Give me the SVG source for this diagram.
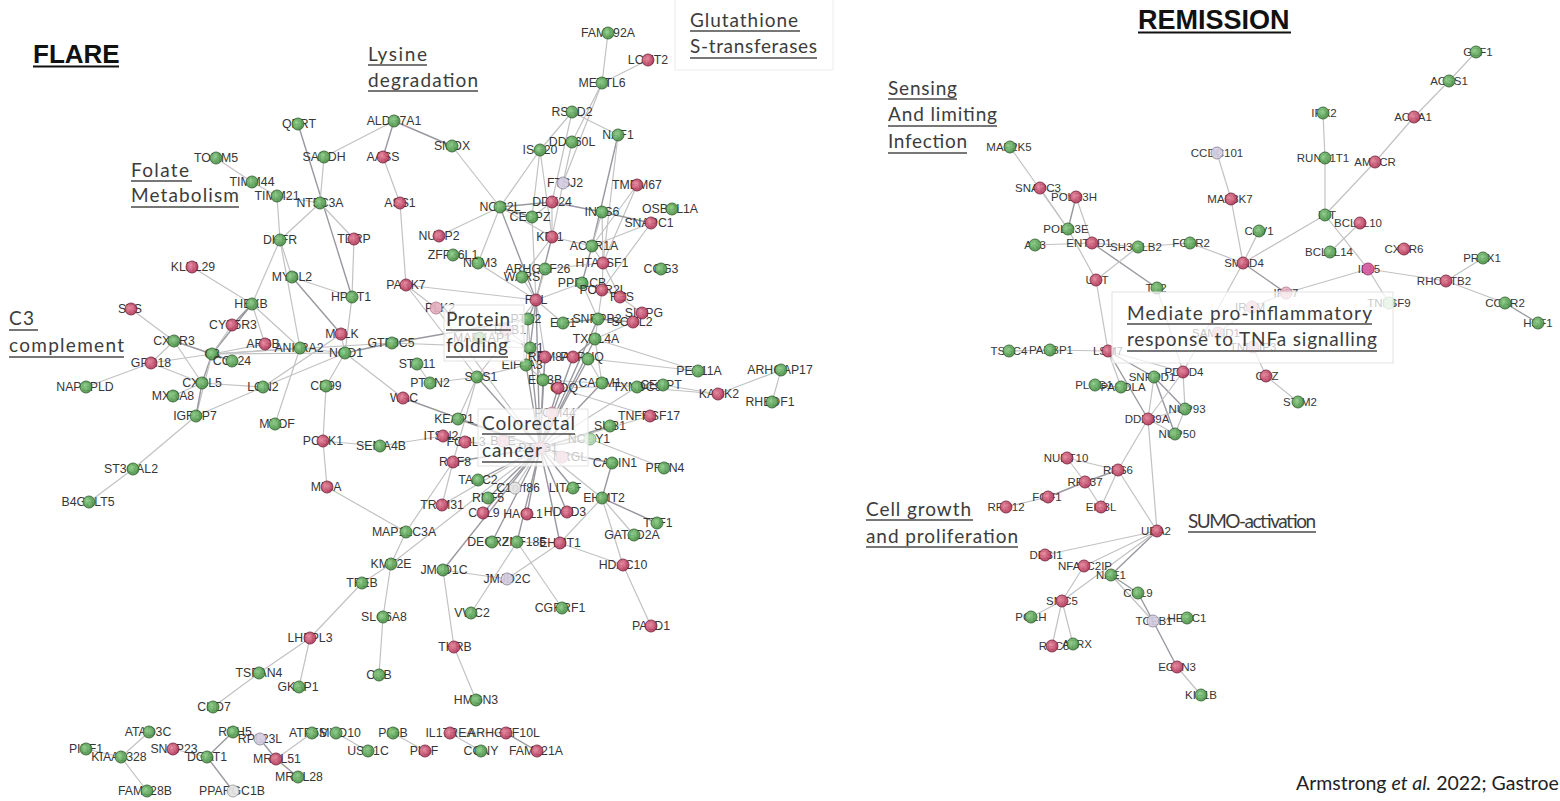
<svg xmlns="http://www.w3.org/2000/svg" width="1560" height="801" viewBox="0 0 1560 801">
<style>
.bg{fill:#fff}
#connectors line{stroke:#c2c2c2;stroke-width:1.2}
#connectors line.d{stroke:#98989f;stroke-width:1.4}
.nd text{font-family:"Liberation Sans",Arial,sans-serif;font-size:12.3px;fill:#363636;text-anchor:middle}
.rt text{font-size:11.5px}
.nd circle{stroke-width:0.9;opacity:0.92}
.g circle{fill:url(#gG);stroke:#2f5e2d}
.r circle{fill:url(#gR);stroke:#702038}
.p circle{fill:#e5b0c0;stroke:#b07888}
.l circle{fill:#d4cde0;stroke:#8a8698}
.w circle{fill:#e4e4e4;stroke:#999}
.lg circle{fill:#b5dcb0;stroke:#6f9e6b}
.m circle{fill:#d65a9e;stroke:#8a2a60}
.cat{font-family:Lato,"Open Sans",sans-serif;font-size:19px;fill:#3c3c3c}
.ul{stroke:#4a4a4a;stroke-width:1.5}
.ttl{font-family:"Liberation Sans",Arial,sans-serif;font-weight:bold;fill:#111}
.box{fill:#fff;fill-opacity:0.72;stroke:#e2e2e2;stroke-width:1}
</style>
<defs>
<radialGradient id="gG" cx="0.4" cy="0.4" r="0.6"><stop offset="0" stop-color="#8fd08a"/><stop offset="1" stop-color="#4a9146"/></radialGradient>
<radialGradient id="gR" cx="0.4" cy="0.4" r="0.6"><stop offset="0" stop-color="#ea8aa0"/><stop offset="1" stop-color="#b4385a"/></radialGradient>
</defs>
<rect class="bg" x="0" y="0" width="1560" height="801"/>

<g id="connectors">
<line x1="608" y1="33" x2="602" y2="83"/>
<line x1="648" y1="60" x2="602" y2="83"/>
<line x1="602" y1="83" x2="563" y2="183"/>
<line x1="602" y1="83" x2="572" y2="142"/>
<line x1="572" y1="112" x2="618" y2="135"/>
<line x1="572" y1="112" x2="540" y2="150"/>
<line x1="572" y1="112" x2="552" y2="202"/>
<line x1="572" y1="142" x2="563" y2="183"/>
<line x1="540" y1="150" x2="532" y2="217"/>
<line x1="540" y1="150" x2="500" y2="207"/>
<line x1="540" y1="150" x2="552" y2="237"/>
<line class="d" x1="618" y1="135" x2="592" y2="246"/>
<line x1="618" y1="135" x2="603" y2="263"/>
<line x1="637" y1="185" x2="592" y2="246"/>
<line x1="637" y1="185" x2="603" y2="263"/>
<line class="d" x1="602" y1="212" x2="552" y2="202"/>
<line class="d" x1="602" y1="212" x2="651" y2="223"/>
<line x1="602" y1="212" x2="592" y2="246"/>
<line x1="602" y1="212" x2="603" y2="263"/>
<line x1="651" y1="223" x2="592" y2="246"/>
<line x1="651" y1="223" x2="602" y2="290"/>
<line x1="563" y1="183" x2="552" y2="237"/>
<line class="d" x1="500" y1="207" x2="552" y2="202"/>
<line class="d" x1="500" y1="207" x2="532" y2="217"/>
<line x1="500" y1="207" x2="552" y2="237"/>
<line class="d" x1="500" y1="207" x2="536" y2="300"/>
<line x1="500" y1="207" x2="439" y2="236"/>
<line x1="500" y1="207" x2="478" y2="263"/>
<line x1="452" y1="146" x2="500" y2="207"/>
<line x1="532" y1="217" x2="552" y2="202"/>
<line x1="532" y1="217" x2="536" y2="300"/>
<line x1="552" y1="202" x2="552" y2="237"/>
<line x1="552" y1="237" x2="592" y2="246"/>
<line class="d" x1="552" y1="237" x2="536" y2="300"/>
<line x1="552" y1="237" x2="522" y2="277"/>
<line x1="592" y1="246" x2="603" y2="263"/>
<line class="d" x1="592" y1="246" x2="582" y2="283"/>
<line x1="603" y1="263" x2="602" y2="290"/>
<line x1="603" y1="263" x2="620" y2="297"/>
<line x1="603" y1="263" x2="545" y2="269"/>
<line x1="545" y1="269" x2="522" y2="277"/>
<line x1="478" y1="263" x2="536" y2="300"/>
<line x1="453" y1="255" x2="478" y2="263"/>
<line x1="394" y1="121" x2="324" y2="157"/>
<line class="d" x1="394" y1="121" x2="383" y2="157"/>
<line class="d" x1="394" y1="121" x2="452" y2="146"/>
<line x1="383" y1="157" x2="400" y2="203"/>
<line x1="400" y1="203" x2="406" y2="285"/>
<line class="d" x1="298" y1="124" x2="352" y2="297"/>
<line x1="324" y1="157" x2="320" y2="203"/>
<line x1="320" y1="203" x2="280" y2="240"/>
<line x1="320" y1="203" x2="354" y2="239"/>
<line x1="320" y1="203" x2="277" y2="196"/>
<line x1="216" y1="158" x2="252" y2="182"/>
<line x1="252" y1="182" x2="277" y2="196"/>
<line x1="277" y1="196" x2="280" y2="240"/>
<line x1="280" y1="240" x2="292" y2="277"/>
<line x1="280" y1="240" x2="252" y2="304"/>
<line x1="280" y1="240" x2="300" y2="348"/>
<line x1="354" y1="239" x2="352" y2="297"/>
<line x1="192" y1="267" x2="252" y2="304"/>
<line class="d" x1="292" y1="277" x2="341" y2="334"/>
<line x1="292" y1="277" x2="352" y2="297"/>
<line x1="352" y1="297" x2="345" y2="353"/>
<line x1="406" y1="285" x2="536" y2="300"/>
<line x1="406" y1="285" x2="477" y2="377"/>
<line class="d" x1="252" y1="304" x2="232" y2="325"/>
<line class="d" x1="252" y1="304" x2="212" y2="354"/>
<line x1="252" y1="304" x2="265" y2="344"/>
<line x1="252" y1="304" x2="300" y2="348"/>
<line x1="232" y1="325" x2="212" y2="354"/>
<line class="d" x1="212" y1="354" x2="174" y2="341"/>
<line class="d" x1="212" y1="354" x2="232" y2="361"/>
<line class="d" x1="212" y1="354" x2="202" y2="383"/>
<line x1="212" y1="354" x2="151" y2="363"/>
<line x1="212" y1="354" x2="196" y2="416"/>
<line x1="212" y1="354" x2="265" y2="344"/>
<line x1="212" y1="354" x2="300" y2="348"/>
<line x1="212" y1="354" x2="345" y2="353"/>
<line x1="212" y1="354" x2="392" y2="343"/>
<line x1="174" y1="341" x2="151" y2="363"/>
<line x1="174" y1="341" x2="202" y2="383"/>
<line x1="174" y1="341" x2="131" y2="309"/>
<line x1="151" y1="363" x2="86" y2="387"/>
<line x1="151" y1="363" x2="202" y2="383"/>
<line x1="202" y1="383" x2="263" y2="387"/>
<line class="d" x1="202" y1="383" x2="196" y2="416"/>
<line x1="202" y1="383" x2="173" y2="396"/>
<line x1="196" y1="416" x2="133" y2="469"/>
<line x1="133" y1="469" x2="89" y2="502"/>
<line x1="196" y1="416" x2="263" y2="387"/>
<line x1="263" y1="387" x2="341" y2="334"/>
<line x1="263" y1="387" x2="345" y2="353"/>
<line class="d" x1="345" y1="353" x2="392" y2="343"/>
<line class="d" x1="392" y1="343" x2="528" y2="319"/>
<line x1="341" y1="334" x2="345" y2="353"/>
<line x1="345" y1="353" x2="403" y2="398"/>
<line x1="345" y1="353" x2="326" y2="386"/>
<line x1="326" y1="386" x2="323" y2="441"/>
<line x1="323" y1="441" x2="327" y2="487"/>
<line x1="323" y1="441" x2="380" y2="446"/>
<line x1="380" y1="446" x2="443" y2="436"/>
<line x1="327" y1="487" x2="406" y2="532"/>
<line x1="275" y1="424" x2="300" y2="348"/>
<line x1="300" y1="348" x2="345" y2="353"/>
<line x1="406" y1="285" x2="436" y2="308"/>
<line x1="436" y1="308" x2="540" y2="448"/>
<line x1="417" y1="364" x2="430" y2="383"/>
<line x1="430" y1="383" x2="477" y2="377"/>
<line class="d" x1="403" y1="398" x2="540" y2="448"/>
<line class="d" x1="477" y1="377" x2="540" y2="448"/>
<line x1="477" y1="377" x2="458" y2="419"/>
<line x1="477" y1="377" x2="453" y2="462"/>
<line x1="477" y1="377" x2="536" y2="300"/>
<line class="d" x1="458" y1="419" x2="540" y2="448"/>
<line x1="443" y1="436" x2="465" y2="442"/>
<line x1="465" y1="442" x2="540" y2="448"/>
<line x1="453" y1="462" x2="442" y2="505"/>
<line class="d" x1="453" y1="462" x2="540" y2="448"/>
<line x1="453" y1="462" x2="406" y2="532"/>
<line class="d" x1="478" y1="480" x2="540" y2="448"/>
<line class="d" x1="488" y1="498" x2="540" y2="448"/>
<line class="d" x1="483" y1="513" x2="540" y2="448"/>
<line class="d" x1="527" y1="514" x2="540" y2="448"/>
<line class="d" x1="567" y1="512" x2="540" y2="448"/>
<line class="d" x1="573" y1="488" x2="540" y2="448"/>
<line x1="515" y1="488" x2="540" y2="448"/>
<line x1="442" y1="505" x2="540" y2="448"/>
<line class="d" x1="602" y1="498" x2="612" y2="463"/>
<line class="d" x1="602" y1="498" x2="657" y2="523"/>
<line x1="602" y1="498" x2="634" y2="535"/>
<line x1="602" y1="498" x2="560" y2="543"/>
<line x1="602" y1="498" x2="623" y2="565"/>
<line x1="602" y1="498" x2="540" y2="448"/>
<line x1="560" y1="543" x2="623" y2="565"/>
<line x1="560" y1="543" x2="507" y2="579"/>
<line x1="560" y1="543" x2="517" y2="542"/>
<line class="d" x1="560" y1="543" x2="540" y2="448"/>
<line x1="623" y1="565" x2="651" y2="626"/>
<line x1="443" y1="570" x2="507" y2="579"/>
<line x1="443" y1="570" x2="454" y2="647"/>
<line class="d" x1="443" y1="570" x2="540" y2="448"/>
<line x1="454" y1="647" x2="476" y2="700"/>
<line x1="471" y1="613" x2="517" y2="542"/>
<line x1="517" y1="542" x2="562" y2="608"/>
<line class="d" x1="492" y1="542" x2="540" y2="448"/>
<line class="d" x1="517" y1="542" x2="540" y2="448"/>
<line x1="406" y1="532" x2="391" y2="564"/>
<line x1="391" y1="564" x2="362" y2="583"/>
<line x1="391" y1="564" x2="383" y2="617"/>
<line x1="391" y1="564" x2="540" y2="448"/>
<line x1="362" y1="583" x2="310" y2="638"/>
<line x1="383" y1="617" x2="379" y2="675"/>
<line x1="310" y1="638" x2="259" y2="673"/>
<line x1="310" y1="638" x2="299" y2="687"/>
<line x1="259" y1="673" x2="213" y2="707"/>
<line x1="149" y1="732" x2="121" y2="757"/>
<line x1="86" y1="749" x2="121" y2="757"/>
<line x1="121" y1="757" x2="147" y2="791"/>
<line x1="173" y1="749" x2="207" y2="757"/>
<line class="d" x1="207" y1="757" x2="233" y2="732"/>
<line class="d" x1="207" y1="757" x2="233" y2="791"/>
<line class="d" x1="260" y1="739" x2="276" y2="759"/>
<line class="d" x1="276" y1="759" x2="298" y2="777"/>
<line x1="276" y1="759" x2="312" y2="733"/>
<line x1="336" y1="733" x2="368" y2="751"/>
<line x1="393" y1="733" x2="425" y2="751"/>
<line x1="450" y1="733" x2="481" y2="751"/>
<line x1="450" y1="733" x2="506" y2="733"/>
<line class="d" x1="506" y1="733" x2="537" y2="751"/>
<line x1="573" y1="357" x2="698" y2="371"/>
<line x1="595" y1="339" x2="698" y2="371"/>
<line x1="663" y1="385" x2="718" y2="394"/>
<line x1="637" y1="387" x2="718" y2="394"/>
<line x1="718" y1="394" x2="781" y2="370"/>
<line x1="781" y1="370" x2="772" y2="402"/>
<line x1="650" y1="416" x2="540" y2="448"/>
<line x1="650" y1="416" x2="558" y2="388"/>
<line class="d" x1="610" y1="426" x2="540" y2="448"/>
<line class="d" x1="590" y1="439" x2="540" y2="448"/>
<line x1="590" y1="439" x2="664" y2="468"/>
<line class="d" x1="612" y1="463" x2="540" y2="448"/>
<line class="d" x1="602" y1="383" x2="540" y2="448"/>
<line x1="602" y1="383" x2="595" y2="339"/>
<line x1="602" y1="383" x2="663" y2="385"/>
<line x1="602" y1="383" x2="543" y2="380"/>
<line class="d" x1="536" y1="300" x2="528" y2="319"/>
<line class="d" x1="536" y1="300" x2="530" y2="348"/>
<line x1="536" y1="300" x2="545" y2="357"/>
<line x1="536" y1="300" x2="563" y2="323"/>
<line x1="536" y1="300" x2="582" y2="283"/>
<line x1="536" y1="300" x2="522" y2="277"/>
<line x1="536" y1="300" x2="545" y2="269"/>
<line x1="528" y1="319" x2="530" y2="348"/>
<line x1="528" y1="319" x2="526" y2="365"/>
<line x1="530" y1="348" x2="545" y2="357"/>
<line x1="530" y1="348" x2="543" y2="380"/>
<line x1="545" y1="357" x2="543" y2="380"/>
<line x1="545" y1="357" x2="573" y2="357"/>
<line x1="526" y1="365" x2="543" y2="380"/>
<line x1="543" y1="380" x2="558" y2="388"/>
<line class="d" x1="563" y1="323" x2="598" y2="319"/>
<line class="d" x1="598" y1="319" x2="633" y2="322"/>
<line x1="598" y1="319" x2="595" y2="339"/>
<line x1="633" y1="322" x2="642" y2="313"/>
<line x1="642" y1="313" x2="620" y2="297"/>
<line x1="620" y1="297" x2="602" y2="290"/>
<line x1="602" y1="290" x2="582" y2="283"/>
<line x1="582" y1="283" x2="598" y2="319"/>
<line x1="602" y1="290" x2="598" y2="319"/>
<line class="d" x1="595" y1="339" x2="573" y2="357"/>
<line x1="595" y1="339" x2="633" y2="322"/>
<line x1="573" y1="357" x2="588" y2="359"/>
<line x1="588" y1="359" x2="602" y2="383"/>
<line class="d" x1="558" y1="388" x2="540" y2="448"/>
<line class="d" x1="543" y1="380" x2="540" y2="448"/>
<line class="d" x1="530" y1="348" x2="540" y2="448"/>
<line class="d" x1="545" y1="357" x2="540" y2="448"/>
<line class="d" x1="526" y1="365" x2="540" y2="448"/>
<line class="d" x1="573" y1="357" x2="540" y2="448"/>
<line class="d" x1="588" y1="359" x2="540" y2="448"/>
<line x1="552" y1="413" x2="540" y2="448"/>
<line x1="562" y1="457" x2="540" y2="448"/>
<line class="d" x1="536" y1="300" x2="540" y2="448"/>
<line class="d" x1="598" y1="319" x2="540" y2="448"/>
<line class="d" x1="595" y1="339" x2="540" y2="448"/>
<line x1="637" y1="387" x2="540" y2="448"/>
<line x1="663" y1="385" x2="558" y2="388"/>
<line x1="477" y1="377" x2="526" y2="365"/>
<line x1="436" y1="308" x2="530" y2="348"/>
<line x1="392" y1="343" x2="530" y2="348"/>
<line x1="503" y1="441" x2="540" y2="448"/>
<line x1="507" y1="330" x2="530" y2="348"/>

<line x1="1476" y1="52" x2="1449" y2="81"/>
<line x1="1449" y1="81" x2="1414" y2="117"/>
<line x1="1414" y1="117" x2="1375" y2="162"/>
<line x1="1375" y1="162" x2="1325" y2="215"/>
<line x1="1323" y1="113" x2="1325" y2="158"/>
<line x1="1325" y1="158" x2="1325" y2="215"/>
<line x1="1217" y1="153" x2="1231" y2="199"/>
<line x1="1231" y1="199" x2="1243" y2="263"/>
<line x1="1325" y1="215" x2="1243" y2="263"/>
<line x1="1325" y1="215" x2="1368" y2="269"/>
<line x1="1360" y1="223" x2="1330" y2="252"/>
<line x1="1259" y1="231" x2="1243" y2="263"/>
<line x1="1190" y1="243" x2="1243" y2="263"/>
<line class="d" x1="1243" y1="263" x2="1286" y2="293"/>
<line x1="1243" y1="263" x2="1183" y2="372"/>
<line x1="1286" y1="293" x2="1368" y2="269"/>
<line x1="1286" y1="293" x2="1252" y2="307"/>
<line x1="1368" y1="269" x2="1446" y2="281"/>
<line x1="1368" y1="269" x2="1389" y2="303"/>
<line x1="1446" y1="281" x2="1483" y2="258"/>
<line x1="1446" y1="281" x2="1505" y2="303"/>
<line class="d" x1="1505" y1="303" x2="1538" y2="323"/>
<line x1="1253" y1="347" x2="1266" y2="376"/>
<line x1="1266" y1="376" x2="1298" y2="402"/>
<line x1="1218" y1="333" x2="1252" y2="307"/>
<line x1="1010" y1="147" x2="1068" y2="229"/>
<line x1="1040" y1="188" x2="1076" y2="197"/>
<line x1="1040" y1="188" x2="1068" y2="229"/>
<line class="d" x1="1076" y1="197" x2="1068" y2="229"/>
<line x1="1076" y1="197" x2="1092" y2="243"/>
<line x1="1035" y1="245" x2="1092" y2="243"/>
<line x1="1092" y1="243" x2="1138" y2="247"/>
<line x1="1138" y1="247" x2="1190" y2="243"/>
<line class="d" x1="1092" y1="243" x2="1157" y2="288"/>
<line x1="1068" y1="229" x2="1096" y2="280"/>
<line x1="1138" y1="247" x2="1096" y2="280"/>
<line x1="1096" y1="280" x2="1108" y2="351"/>
<line x1="1157" y1="288" x2="1183" y2="372"/>
<line x1="1009" y1="351" x2="1050" y2="350"/>
<line x1="1050" y1="350" x2="1108" y2="351"/>
<line class="d" x1="1108" y1="351" x2="1154" y2="377"/>
<line class="d" x1="1108" y1="351" x2="1148" y2="419"/>
<line x1="1108" y1="351" x2="1121" y2="387"/>
<line x1="1108" y1="351" x2="1183" y2="372"/>
<line x1="1095" y1="385" x2="1121" y2="387"/>
<line x1="1154" y1="377" x2="1148" y2="419"/>
<line class="d" x1="1154" y1="377" x2="1185" y2="409"/>
<line class="d" x1="1154" y1="377" x2="1175" y2="434"/>
<line x1="1148" y1="419" x2="1185" y2="409"/>
<line x1="1148" y1="419" x2="1175" y2="434"/>
<line x1="1185" y1="409" x2="1175" y2="434"/>
<line x1="1183" y1="372" x2="1148" y2="419"/>
<line x1="1183" y1="372" x2="1185" y2="409"/>
<line x1="1148" y1="419" x2="1157" y2="531"/>
<line x1="1148" y1="419" x2="1118" y2="470"/>
<line x1="1067" y1="458" x2="1118" y2="470"/>
<line x1="1067" y1="458" x2="1085" y2="482"/>
<line class="d" x1="1118" y1="470" x2="1085" y2="482"/>
<line x1="1118" y1="470" x2="1101" y2="507"/>
<line x1="1085" y1="482" x2="1101" y2="507"/>
<line class="d" x1="1085" y1="482" x2="1048" y2="497"/>
<line x1="1048" y1="497" x2="1006" y2="507"/>
<line x1="1118" y1="470" x2="1157" y2="531"/>
<line x1="1157" y1="531" x2="1045" y2="555"/>
<line x1="1157" y1="531" x2="1084" y2="566"/>
<line class="d" x1="1157" y1="531" x2="1111" y2="575"/>
<line x1="1157" y1="531" x2="1062" y2="601"/>
<line class="d" x1="1111" y1="575" x2="1138" y2="593"/>
<line class="d" x1="1138" y1="593" x2="1153" y2="621"/>
<line x1="1111" y1="575" x2="1153" y2="621"/>
<line class="d" x1="1153" y1="621" x2="1177" y2="667"/>
<line x1="1153" y1="621" x2="1187" y2="618"/>
<line x1="1177" y1="667" x2="1201" y2="695"/>
<line x1="1084" y1="566" x2="1062" y2="601"/>
<line x1="1062" y1="601" x2="1031" y2="617"/>
<line x1="1062" y1="601" x2="1052" y2="646"/>
<line x1="1062" y1="601" x2="1073" y2="644"/>
</g>

<g id="n-FAM192A" class="nd g"><text x="608" y="37">FAM192A</text><circle cx="608" cy="33" r="6"/></g>
<g id="n-LCMT2" class="nd r"><text x="648" y="64">LCMT2</text><circle cx="648" cy="60" r="6"/></g>
<g id="n-METTL6" class="nd g"><text x="602" y="87">METTL6</text><circle cx="602" cy="83" r="6"/></g>
<g id="n-RSAD2" class="nd g"><text x="572" y="116">RSAD2</text><circle cx="572" cy="112" r="6"/></g>
<g id="n-NAF1" class="nd g"><text x="618" y="139">NAF1</text><circle cx="618" cy="135" r="6"/></g>
<g id="n-DDX60L" class="nd g"><text x="572" y="146">DDX60L</text><circle cx="572" cy="142" r="6"/></g>
<g id="n-ISG20" class="nd g"><text x="540" y="154">ISG20</text><circle cx="540" cy="150" r="6"/></g>
<g id="n-TMEM67" class="nd r"><text x="637" y="189">TMEM67</text><circle cx="637" cy="185" r="6"/></g>
<g id="n-FTSJ2" class="nd l"><text x="565" y="187">FTSJ2</text><circle cx="563" cy="183" r="6"/></g>
<g id="n-DDX24" class="nd r"><text x="552" y="206">DDX24</text><circle cx="552" cy="202" r="6"/></g>
<g id="n-INTS6" class="nd g"><text x="602" y="216">INTS6</text><circle cx="602" cy="212" r="6"/></g>
<g id="n-OSBPL1A" class="nd g"><text x="670" y="213">OSBPL1A</text><circle cx="672" cy="209" r="6"/></g>
<g id="n-SNAPC1" class="nd r"><text x="649" y="227">SNAPC1</text><circle cx="651" cy="223" r="6"/></g>
<g id="n-NOC2L" class="nd g"><text x="500" y="211">NOC2L</text><circle cx="500" cy="207" r="6"/></g>
<g id="n-CEBPZ" class="nd g"><text x="530" y="221">CEBPZ</text><circle cx="532" cy="217" r="6"/></g>
<g id="n-KRI1" class="nd r"><text x="550" y="241">KRI1</text><circle cx="552" cy="237" r="6"/></g>
<g id="n-ACTR1A" class="nd g"><text x="594" y="250">ACTR1A</text><circle cx="592" cy="246" r="6"/></g>
<g id="n-HTATSF1" class="nd r"><text x="602" y="267">HTATSF1</text><circle cx="603" cy="263" r="6"/></g>
<g id="n-COG3" class="nd g"><text x="661" y="273">COG3</text><circle cx="661" cy="269" r="6"/></g>
<g id="n-ARHGEF26" class="nd g"><text x="538" y="273">ARHGEF26</text><circle cx="545" cy="269" r="6"/></g>
<g id="n-WARS" class="nd g"><text x="522" y="281">WARS</text><circle cx="522" cy="277" r="6"/></g>
<g id="n-NPM3" class="nd g"><text x="480" y="267">NPM3</text><circle cx="478" cy="263" r="6"/></g>
<g id="n-ZFP36L1" class="nd g"><text x="453" y="259">ZFP36L1</text><circle cx="453" cy="255" r="6"/></g>
<g id="n-NUBP2" class="nd r"><text x="439" y="240">NUBP2</text><circle cx="439" cy="236" r="6"/></g>
<g id="n-TDRP" class="nd r"><text x="354" y="243">TDRP</text><circle cx="354" cy="239" r="6"/></g>
<g id="n-ASS1" class="nd r"><text x="400" y="207">ASS1</text><circle cx="400" cy="203" r="6"/></g>
<g id="n-AASS" class="nd r"><text x="383" y="161">AASS</text><circle cx="383" cy="157" r="6"/></g>
<g id="n-ALDH7A1" class="nd g"><text x="394" y="125">ALDH7A1</text><circle cx="394" cy="121" r="6"/></g>
<g id="n-SMOX" class="nd g"><text x="452" y="150">SMOX</text><circle cx="452" cy="146" r="6"/></g>
<g id="n-QPRT" class="nd g"><text x="299" y="128">QPRT</text><circle cx="298" cy="124" r="6"/></g>
<g id="n-SARDH" class="nd g"><text x="324" y="161">SARDH</text><circle cx="324" cy="157" r="6"/></g>
<g id="n-NT5C3A" class="nd g"><text x="320" y="207">NT5C3A</text><circle cx="320" cy="203" r="6"/></g>
<g id="n-TOMM5" class="nd g"><text x="216" y="162">TOMM5</text><circle cx="216" cy="158" r="6"/></g>
<g id="n-TIMM44" class="nd g"><text x="252" y="186">TIMM44</text><circle cx="252" cy="182" r="6"/></g>
<g id="n-TIMM21" class="nd g"><text x="277" y="200">TIMM21</text><circle cx="277" cy="196" r="6"/></g>
<g id="n-DHFR" class="nd g"><text x="280" y="244">DHFR</text><circle cx="280" cy="240" r="6"/></g>
<g id="n-KLHL29" class="nd r"><text x="193" y="271">KLHL29</text><circle cx="192" cy="267" r="6"/></g>
<g id="n-MYBL2" class="nd g"><text x="292" y="281">MYBL2</text><circle cx="292" cy="277" r="6"/></g>
<g id="n-HPRT1" class="nd g"><text x="351" y="301">HPRT1</text><circle cx="352" cy="297" r="6"/></g>
<g id="n-PARK7" class="nd r"><text x="406" y="289">PARK7</text><circle cx="406" cy="285" r="6"/></g>
<g id="n-PLK2" class="nd p"><text x="440" y="312">PLK2</text><circle cx="436" cy="308" r="6"/></g>
<g id="n-HEXB" class="nd g"><text x="251" y="308">HEXB</text><circle cx="252" cy="304" r="6"/></g>
<g id="n-CYB5R3" class="nd r"><text x="233" y="329">CYB5R3</text><circle cx="232" cy="325" r="6"/></g>
<g id="n-ARSB" class="nd r"><text x="263" y="348">ARSB</text><circle cx="265" cy="344" r="6"/></g>
<g id="n-ANKRA2" class="nd g"><text x="299" y="352">ANKRA2</text><circle cx="300" cy="348" r="6"/></g>
<g id="n-MELK" class="nd r"><text x="342" y="338">MELK</text><circle cx="341" cy="334" r="6"/></g>
<g id="n-NOD1" class="nd g"><text x="346" y="357">NOD1</text><circle cx="345" cy="353" r="6"/></g>
<g id="n-GTF3C5" class="nd g"><text x="391" y="347">GTF3C5</text><circle cx="392" cy="343" r="6"/></g>
<g id="n-STK11" class="nd g"><text x="417" y="368">STK11</text><circle cx="417" cy="364" r="6"/></g>
<g id="n-PTPN2" class="nd g"><text x="430" y="387">PTPN2</text><circle cx="430" cy="383" r="6"/></g>
<g id="n-SOS1" class="nd g"><text x="481" y="381">SOS1</text><circle cx="477" cy="377" r="6"/></g>
<g id="n-CD99" class="nd g"><text x="326" y="390">CD99</text><circle cx="326" cy="386" r="6"/></g>
<g id="n-WAC" class="nd r"><text x="404" y="402">WAC</text><circle cx="403" cy="398" r="6"/></g>
<g id="n-MYOF" class="nd g"><text x="277" y="428">MYOF</text><circle cx="275" cy="424" r="6"/></g>
<g id="n-PCSK1" class="nd r"><text x="323" y="445">PCSK1</text><circle cx="323" cy="441" r="6"/></g>
<g id="n-SEMA4B" class="nd g"><text x="381" y="450">SEMA4B</text><circle cx="380" cy="446" r="6"/></g>
<g id="n-MICA" class="nd r"><text x="326" y="491">MICA</text><circle cx="327" cy="487" r="6"/></g>
<g id="n-LCN2" class="nd g"><text x="263" y="391">LCN2</text><circle cx="263" cy="387" r="6"/></g>
<g id="n-CXCL5" class="nd g"><text x="202" y="387">CXCL5</text><circle cx="202" cy="383" r="6"/></g>
<g id="n-C3" class="nd g"><text x="212" y="358">C3</text><circle cx="212" cy="354" r="6"/></g>
<g id="n-CCL24" class="nd g"><text x="232" y="365">CCL24</text><circle cx="232" cy="361" r="6"/></g>
<g id="n-CXCR3" class="nd g"><text x="174" y="345">CXCR3</text><circle cx="174" cy="341" r="6"/></g>
<g id="n-GPR18" class="nd r"><text x="151" y="367">GPR18</text><circle cx="151" cy="363" r="6"/></g>
<g id="n-NAPEPLD" class="nd g"><text x="85" y="391">NAPEPLD</text><circle cx="86" cy="387" r="6"/></g>
<g id="n-STS" class="nd r"><text x="130" y="313">STS</text><circle cx="131" cy="309" r="6"/></g>
<g id="n-MXRA8" class="nd g"><text x="173" y="400">MXRA8</text><circle cx="173" cy="396" r="6"/></g>
<g id="n-IGFBP7" class="nd g"><text x="195" y="420">IGFBP7</text><circle cx="196" cy="416" r="6"/></g>
<g id="n-ST3GAL2" class="nd g"><text x="131" y="473">ST3GAL2</text><circle cx="133" cy="469" r="6"/></g>
<g id="n-B4GALT5" class="nd g"><text x="88" y="506">B4GALT5</text><circle cx="89" cy="502" r="6"/></g>
<g id="n-KEAP1" class="nd g"><text x="454" y="423">KEAP1</text><circle cx="458" cy="419" r="6"/></g>
<g id="n-ITSN2" class="nd r"><text x="441" y="440">ITSN2</text><circle cx="443" cy="436" r="6"/></g>
<g id="n-FCRL3" class="nd r"><text x="466" y="446">FCRL3</text><circle cx="465" cy="442" r="6"/></g>
<g id="n-BRE" class="nd p"><text x="503" y="445">BRE</text><circle cx="503" cy="441" r="6"/></g>
<g id="n-PTTG1" class="nd p"><text x="538" y="452">PTTG1</text><circle cx="540" cy="448" r="6"/></g>
<g id="n-POM44" class="nd p"><text x="555" y="417">POM44</text><circle cx="552" cy="413" r="6"/></g>
<g id="n-NRGL" class="nd p"><text x="570" y="461">NRGL</text><circle cx="562" cy="457" r="6"/></g>
<g id="n-RNF8" class="nd r"><text x="455" y="466">RNF8</text><circle cx="453" cy="462" r="6"/></g>
<g id="n-TACC2" class="nd g"><text x="478" y="484">TACC2</text><circle cx="478" cy="480" r="6"/></g>
<g id="n-C1orf86" class="nd w"><text x="518" y="492">C1orf86</text><circle cx="515" cy="488" r="6"/></g>
<g id="n-RNF5" class="nd g"><text x="488" y="502">RNF5</text><circle cx="488" cy="498" r="6"/></g>
<g id="n-TRIM31" class="nd r"><text x="442" y="509">TRIM31</text><circle cx="442" cy="505" r="6"/></g>
<g id="n-CUL9" class="nd r"><text x="484" y="517">CUL9</text><circle cx="483" cy="513" r="6"/></g>
<g id="n-HACL1" class="nd r"><text x="523" y="518">HACL1</text><circle cx="527" cy="514" r="6"/></g>
<g id="n-HDHD3" class="nd r"><text x="565" y="516">HDHD3</text><circle cx="567" cy="512" r="6"/></g>
<g id="n-LITAF" class="nd g"><text x="565" y="492">LITAF</text><circle cx="573" cy="488" r="6"/></g>
<g id="n-EHMT2" class="nd g"><text x="604" y="502">EHMT2</text><circle cx="602" cy="498" r="6"/></g>
<g id="n-TTF1" class="nd g"><text x="658" y="527">TTF1</text><circle cx="657" cy="523" r="6"/></g>
<g id="n-GATAD2A" class="nd g"><text x="632" y="539">GATAD2A</text><circle cx="634" cy="535" r="6"/></g>
<g id="n-EHMT1" class="nd r"><text x="560" y="547">EHMT1</text><circle cx="560" cy="543" r="6"/></g>
<g id="n-DECR2" class="nd g"><text x="488" y="546">DECR2</text><circle cx="492" cy="542" r="6"/></g>
<g id="n-ZNF185" class="nd g"><text x="524" y="546">ZNF185</text><circle cx="517" cy="542" r="6"/></g>
<g id="n-HDAC10" class="nd r"><text x="623" y="569">HDAC10</text><circle cx="623" cy="565" r="6"/></g>
<g id="n-JMJD1C" class="nd g"><text x="444" y="574">JMJD1C</text><circle cx="443" cy="570" r="6"/></g>
<g id="n-JMJD2C" class="nd l"><text x="507" y="583">JMJD2C</text><circle cx="507" cy="579" r="6"/></g>
<g id="n-CGRRF1" class="nd g"><text x="560" y="612">CGRRF1</text><circle cx="562" cy="608" r="6"/></g>
<g id="n-PALD1" class="nd r"><text x="651" y="630">PALD1</text><circle cx="651" cy="626" r="6"/></g>
<g id="n-VWC2" class="nd g"><text x="472" y="617">VWC2</text><circle cx="471" cy="613" r="6"/></g>
<g id="n-THRB" class="nd r"><text x="455" y="651">THRB</text><circle cx="454" cy="647" r="6"/></g>
<g id="n-HMGN3" class="nd g"><text x="476" y="704">HMGN3</text><circle cx="476" cy="700" r="6"/></g>
<g id="n-MAP1LC3A" class="nd g"><text x="404" y="536">MAP1LC3A</text><circle cx="406" cy="532" r="6"/></g>
<g id="n-KMT2E" class="nd g"><text x="391" y="568">KMT2E</text><circle cx="391" cy="564" r="6"/></g>
<g id="n-TFEB" class="nd g"><text x="362" y="587">TFEB</text><circle cx="362" cy="583" r="6"/></g>
<g id="n-SLC6A8" class="nd g"><text x="384" y="621">SLC6A8</text><circle cx="383" cy="617" r="6"/></g>
<g id="n-CKB" class="nd g"><text x="379" y="679">CKB</text><circle cx="379" cy="675" r="6"/></g>
<g id="n-LHFPL3" class="nd r"><text x="310" y="642">LHFPL3</text><circle cx="310" cy="638" r="6"/></g>
<g id="n-TSPAN4" class="nd g"><text x="259" y="677">TSPAN4</text><circle cx="259" cy="673" r="6"/></g>
<g id="n-GKAP1" class="nd g"><text x="298" y="691">GKAP1</text><circle cx="299" cy="687" r="6"/></g>
<g id="n-CHD7" class="nd g"><text x="214" y="711">CHD7</text><circle cx="213" cy="707" r="6"/></g>
<g id="n-ATAD3C" class="nd g"><text x="148" y="736">ATAD3C</text><circle cx="149" cy="732" r="6"/></g>
<g id="n-PIBF1" class="nd g"><text x="86" y="753">PIBF1</text><circle cx="86" cy="749" r="6"/></g>
<g id="n-KIAA1328" class="nd g"><text x="119" y="761">KIAA1328</text><circle cx="121" cy="757" r="6"/></g>
<g id="n-SNAP23" class="nd r"><text x="174" y="753">SNAP23</text><circle cx="173" cy="749" r="6"/></g>
<g id="n-DGAT1" class="nd g"><text x="207" y="761">DGAT1</text><circle cx="207" cy="757" r="6"/></g>
<g id="n-RDH5" class="nd g"><text x="235" y="736">RDH5</text><circle cx="233" cy="732" r="6"/></g>
<g id="n-RPL23L" class="nd l"><text x="260" y="743">RPL23L</text><circle cx="260" cy="739" r="6"/></g>
<g id="n-MRPL51" class="nd r"><text x="277" y="763">MRPL51</text><circle cx="276" cy="759" r="6"/></g>
<g id="n-MRPL28" class="nd g"><text x="299" y="781">MRPL28</text><circle cx="298" cy="777" r="6"/></g>
<g id="n-FAM228B" class="nd g"><text x="145" y="795">FAM228B</text><circle cx="147" cy="791" r="6"/></g>
<g id="n-PPARGC1B" class="nd w"><text x="232" y="795">PPARGC1B</text><circle cx="233" cy="791" r="6"/></g>
<g id="n-ATP5S" class="nd g"><text x="308" y="737">ATP5S</text><circle cx="312" cy="733" r="6"/></g>
<g id="n-MYO10" class="nd g"><text x="340" y="737">MYO10</text><circle cx="336" cy="733" r="6"/></g>
<g id="n-USH1C" class="nd g"><text x="368" y="755">USH1C</text><circle cx="368" cy="751" r="6"/></g>
<g id="n-PIGB" class="nd g"><text x="393" y="737">PIGB</text><circle cx="393" cy="733" r="6"/></g>
<g id="n-PIGF" class="nd r"><text x="424" y="755">PIGF</text><circle cx="425" cy="751" r="6"/></g>
<g id="n-IL17REA" class="nd r"><text x="450" y="737">IL17REA</text><circle cx="450" cy="733" r="6"/></g>
<g id="n-ARHGEF10L" class="nd r"><text x="504" y="737">ARHGEF10L</text><circle cx="506" cy="733" r="6"/></g>
<g id="n-CCNY" class="nd g"><text x="481" y="755">CCNY</text><circle cx="481" cy="751" r="6"/></g>
<g id="n-FAM221A" class="nd r"><text x="536" y="755">FAM221A</text><circle cx="537" cy="751" r="6"/></g>
<g id="n-PEX11A" class="nd g"><text x="699" y="375">PEX11A</text><circle cx="698" cy="371" r="6"/></g>
<g id="n-ARHGAP17" class="nd g"><text x="780" y="374">ARHGAP17</text><circle cx="781" cy="370" r="6"/></g>
<g id="n-KANK2" class="nd r"><text x="719" y="398">KANK2</text><circle cx="718" cy="394" r="6"/></g>
<g id="n-RHBDF1" class="nd g"><text x="770" y="406">RHBDF1</text><circle cx="772" cy="402" r="6"/></g>
<g id="n-TNFRSF17" class="nd r"><text x="649" y="420">TNFRSF17</text><circle cx="650" cy="416" r="6"/></g>
<g id="n-SUB1" class="nd g"><text x="610" y="430">SUB1</text><circle cx="610" cy="426" r="6"/></g>
<g id="n-NCOY1" class="nd lg"><text x="589" y="443">NCOY1</text><circle cx="590" cy="439" r="6"/></g>
<g id="n-CABIN1" class="nd g"><text x="615" y="467">CABIN1</text><circle cx="612" cy="463" r="6"/></g>
<g id="n-PFTN4" class="nd g"><text x="665" y="472">PFTN4</text><circle cx="664" cy="468" r="6"/></g>
<g id="n-CARM1" class="nd g"><text x="600" y="387">CARM1</text><circle cx="602" cy="383" r="6"/></g>
<g id="n-TXNDC9" class="nd g"><text x="637" y="391">TXNDC9</text><circle cx="637" cy="387" r="6"/></g>
<g id="n-CENPT" class="nd g"><text x="661" y="389">CENPT</text><circle cx="663" cy="385" r="6"/></g>
<g id="n-TXNL4A" class="nd g"><text x="596" y="343">TXNL4A</text><circle cx="595" cy="339" r="6"/></g>
<g id="n-PPP1CB" class="nd g"><text x="582" y="287">PPP1CB</text><circle cx="582" cy="283" r="6"/></g>
<g id="n-POLR2L" class="nd r"><text x="603" y="294">POLR2L</text><circle cx="602" cy="290" r="6"/></g>
<g id="n-FES" class="nd r"><text x="622" y="301">FES</text><circle cx="620" cy="297" r="6"/></g>
<g id="n-SNRPB2" class="nd g"><text x="597" y="323">SNRPB2</text><circle cx="598" cy="319" r="6"/></g>
<g id="n-SCML2" class="nd r"><text x="632" y="326">SCML2</text><circle cx="633" cy="322" r="6"/></g>
<g id="n-SIRPG" class="nd r"><text x="644" y="317">SIRPG</text><circle cx="642" cy="313" r="6"/></g>
<g id="n-EIF1" class="nd g"><text x="563" y="327">EIF1</text><circle cx="563" cy="323" r="6"/></g>
<g id="n-FBL" class="nd r"><text x="536" y="304">FBL</text><circle cx="536" cy="300" r="6"/></g>
<g id="n-PTK2" class="nd g"><text x="526" y="323">PTK2</text><circle cx="528" cy="319" r="6"/></g>
<g id="n-YY1" class="nd g"><text x="532" y="352">YY1</text><circle cx="530" cy="348" r="6"/></g>
<g id="n-RBM8A" class="nd r"><text x="549" y="361">RBM8A</text><circle cx="545" cy="357" r="6"/></g>
<g id="n-EIF4A3" class="nd g"><text x="522" y="369">EIF4A3</text><circle cx="526" cy="365" r="6"/></g>
<g id="n-EIF3B" class="nd g"><text x="545" y="384">EIF3B</text><circle cx="543" cy="380" r="6"/></g>
<g id="n-COQ" class="nd r"><text x="564" y="392">COQ</text><circle cx="558" cy="388" r="6"/></g>
<g id="n-PRPHQ" class="nd r"><text x="582" y="361">PRPHQ</text><circle cx="573" cy="357" r="6"/></g>
<g id="n-EIF2" class="nd g"><circle cx="588" cy="359" r="6"/></g>
<g id="n-RAB1" class="nd p"><text x="510" y="334">RAB1</text><circle cx="507" cy="330" r="6"/></g>
<g id="n-MAPKAP1" class="nd g"><text x="482" y="342">MAPKAP1</text><circle cx="480" cy="338" r="6"/></g>

<g id="n-GZF1" class="nd g rt"><text x="1478" y="56">GZF1</text><circle cx="1476" cy="52" r="6"/></g>
<g id="n-ACSS1" class="nd g rt"><text x="1449" y="85">ACSS1</text><circle cx="1449" cy="81" r="6"/></g>
<g id="n-ACAA1" class="nd r rt"><text x="1413" y="121">ACAA1</text><circle cx="1414" cy="117" r="6"/></g>
<g id="n-IRX2" class="nd g rt"><text x="1324" y="117">IRX2</text><circle cx="1323" cy="113" r="6"/></g>
<g id="n-RUNX1T1" class="nd g rt"><text x="1323" y="162">RUNX1T1</text><circle cx="1325" cy="158" r="6"/></g>
<g id="n-AMACR" class="nd r rt"><text x="1375" y="166">AMACR</text><circle cx="1375" cy="162" r="6"/></g>
<g id="n-CCDC101" class="nd l rt"><text x="1217" y="157">CCDC101</text><circle cx="1217" cy="153" r="6"/></g>
<g id="n-MAP3K7" class="nd r rt"><text x="1230" y="203">MAP3K7</text><circle cx="1231" cy="199" r="6"/></g>
<g id="n-KIT" class="nd g rt"><text x="1327" y="219">KIT</text><circle cx="1325" cy="215" r="6"/></g>
<g id="n-BCL2L10" class="nd r rt"><text x="1358" y="227">BCL2L10</text><circle cx="1360" cy="223" r="6"/></g>
<g id="n-CAV1" class="nd g rt"><text x="1259" y="235">CAV1</text><circle cx="1259" cy="231" r="6"/></g>
<g id="n-BCL2L14" class="nd g rt"><text x="1329" y="256">BCL2L14</text><circle cx="1330" cy="252" r="6"/></g>
<g id="n-CXCR6" class="nd r rt"><text x="1404" y="253">CXCR6</text><circle cx="1404" cy="249" r="6"/></g>
<g id="n-SMAD4" class="nd r rt"><text x="1244" y="267">SMAD4</text><circle cx="1243" cy="263" r="6"/></g>
<g id="n-IL15" class="nd m rt"><text x="1369" y="273">IL15</text><circle cx="1368" cy="269" r="6"/></g>
<g id="n-PREX1" class="nd g rt"><text x="1482" y="262">PREX1</text><circle cx="1483" cy="258" r="6"/></g>
<g id="n-RHOBTB2" class="nd r rt"><text x="1444" y="285">RHOBTB2</text><circle cx="1446" cy="281" r="6"/></g>
<g id="n-TNFSF9" class="nd lg rt"><text x="1389" y="307">TNFSF9</text><circle cx="1389" cy="303" r="6"/></g>
<g id="n-IRF7" class="nd p rt"><text x="1286" y="297">IRF7</text><circle cx="1286" cy="293" r="6"/></g>
<g id="n-COAR2" class="nd g rt"><text x="1505" y="307">COAR2</text><circle cx="1505" cy="303" r="6"/></g>
<g id="n-HSF1" class="nd g rt"><text x="1538" y="327">HSF1</text><circle cx="1538" cy="323" r="6"/></g>
<g id="n-IRGM" class="nd p rt"><text x="1250" y="311">IRGM</text><circle cx="1252" cy="307" r="6"/></g>
<g id="n-SAMHD1" class="nd p rt"><text x="1216" y="337">SAMHD1</text><circle cx="1218" cy="333" r="6"/></g>
<g id="n-TNFAIP3" class="nd p rt"><text x="1253" y="351">TNFAIP3</text><circle cx="1253" cy="347" r="6"/></g>
<g id="n-CPZ" class="nd r rt"><text x="1267" y="380">CPZ</text><circle cx="1266" cy="376" r="6"/></g>
<g id="n-STIM2" class="nd g rt"><text x="1300" y="406">STIM2</text><circle cx="1298" cy="402" r="6"/></g>
<g id="n-MAP2K5" class="nd g rt"><text x="1009" y="151">MAP2K5</text><circle cx="1010" cy="147" r="6"/></g>
<g id="n-SNAPC3" class="nd r rt"><text x="1038" y="192">SNAPC3</text><circle cx="1040" cy="188" r="6"/></g>
<g id="n-POLR3H" class="nd r rt"><text x="1074" y="201">POLR3H</text><circle cx="1076" cy="197" r="6"/></g>
<g id="n-POLR3E" class="nd g rt"><text x="1066" y="233">POLR3E</text><circle cx="1068" cy="229" r="6"/></g>
<g id="n-AK3" class="nd g rt"><text x="1035" y="249">AK3</text><circle cx="1035" cy="245" r="6"/></g>
<g id="n-ENTPD1" class="nd r rt"><text x="1089" y="247">ENTPD1</text><circle cx="1092" cy="243" r="6"/></g>
<g id="n-SH3GLB2" class="nd g rt"><text x="1136" y="251">SH3GLB2</text><circle cx="1138" cy="247" r="6"/></g>
<g id="n-FGFR2" class="nd g rt"><text x="1191" y="247">FGFR2</text><circle cx="1190" cy="243" r="6"/></g>
<g id="n-UXT" class="nd r rt"><text x="1097" y="284">UXT</text><circle cx="1096" cy="280" r="6"/></g>
<g id="n-TK2" class="nd g rt"><text x="1156" y="292">TK2</text><circle cx="1157" cy="288" r="6"/></g>
<g id="n-TSSC4" class="nd g rt"><text x="1009" y="355">TSSC4</text><circle cx="1009" cy="351" r="6"/></g>
<g id="n-PAXBP1" class="nd g rt"><text x="1051" y="354">PAXBP1</text><circle cx="1050" cy="350" r="6"/></g>
<g id="n-LSM7" class="nd r rt"><text x="1108" y="355">LSM7</text><circle cx="1108" cy="351" r="6"/></g>
<g id="n-SNRPD1" class="nd g rt"><text x="1152" y="381">SNRPD1</text><circle cx="1154" cy="377" r="6"/></g>
<g id="n-PDCD4" class="nd r rt"><text x="1184" y="376">PDCD4</text><circle cx="1183" cy="372" r="6"/></g>
<g id="n-PLRG1" class="nd g rt"><text x="1094" y="389">PLRG1</text><circle cx="1095" cy="385" r="6"/></g>
<g id="n-PAPOLA" class="nd g rt"><text x="1123" y="391">PAPOLA</text><circle cx="1121" cy="387" r="6"/></g>
<g id="n-DDX39A" class="nd r rt"><text x="1147" y="423">DDX39A</text><circle cx="1148" cy="419" r="6"/></g>
<g id="n-NUP93" class="nd g rt"><text x="1187" y="413">NUP93</text><circle cx="1185" cy="409" r="6"/></g>
<g id="n-NUP50" class="nd g rt"><text x="1177" y="438">NUP50</text><circle cx="1175" cy="434" r="6"/></g>
<g id="n-NUDT10" class="nd r rt"><text x="1066" y="462">NUDT10</text><circle cx="1067" cy="458" r="6"/></g>
<g id="n-RPS6" class="nd r rt"><text x="1118" y="474">RPS6</text><circle cx="1118" cy="470" r="6"/></g>
<g id="n-RPL37" class="nd r rt"><text x="1085" y="486">RPL37</text><circle cx="1085" cy="482" r="6"/></g>
<g id="n-FGF1" class="nd r rt"><text x="1047" y="501">FGF1</text><circle cx="1048" cy="497" r="6"/></g>
<g id="n-RRP12" class="nd r rt"><text x="1006" y="511">RRP12</text><circle cx="1006" cy="507" r="6"/></g>
<g id="n-EIF3L" class="nd r rt"><text x="1101" y="511">EIF3L</text><circle cx="1101" cy="507" r="6"/></g>
<g id="n-UBA2" class="nd r rt"><text x="1156" y="535">UBA2</text><circle cx="1157" cy="531" r="6"/></g>
<g id="n-DESI1" class="nd r rt"><text x="1046" y="559">DESI1</text><circle cx="1045" cy="555" r="6"/></g>
<g id="n-NFATC2IP" class="nd r rt"><text x="1085" y="570">NFATC2IP</text><circle cx="1084" cy="566" r="6"/></g>
<g id="n-NAE1" class="nd g rt"><text x="1111" y="579">NAE1</text><circle cx="1111" cy="575" r="6"/></g>
<g id="n-CUL9b" class="nd g rt"><text x="1138" y="597">CUL9</text><circle cx="1138" cy="593" r="6"/></g>
<g id="n-SMC5" class="nd r rt"><text x="1062" y="605">SMC5</text><circle cx="1062" cy="601" r="6"/></g>
<g id="n-POLH" class="nd g rt"><text x="1031" y="621">POLH</text><circle cx="1031" cy="617" r="6"/></g>
<g id="n-TCEB1" class="nd l rt"><text x="1154" y="625">TCEB1</text><circle cx="1153" cy="621" r="6"/></g>
<g id="n-HERC1" class="nd g rt"><text x="1187" y="622">HERC1</text><circle cx="1187" cy="618" r="6"/></g>
<g id="n-REC8" class="nd r rt"><text x="1054" y="650">REC8</text><circle cx="1052" cy="646" r="6"/></g>
<g id="n-ATRX" class="nd g rt"><text x="1077" y="648">ATRX</text><circle cx="1073" cy="644" r="6"/></g>
<g id="n-EGLN3" class="nd r rt"><text x="1177" y="671">EGLN3</text><circle cx="1177" cy="667" r="6"/></g>
<g id="n-KIF1B" class="nd g rt"><text x="1201" y="699">KIF1B</text><circle cx="1201" cy="695" r="6"/></g>

<g id="lbl-flare"><text class="ttl" x="33" y="63" font-size="26">FLARE</text><line x1="33" y1="66.5" x2="119" y2="66.5" stroke="#111" stroke-width="2.2"/></g>
<g id="lbl-remission"><text class="ttl" x="1138" y="29" font-size="27">REMISSION</text><line x1="1138" y1="32.5" x2="1291" y2="32.5" stroke="#111" stroke-width="2.2"/></g>

<g id="lbl-lysine"><text class="cat" x="368" y="61" textLength="59">Lysine</text><line class="ul" x1="368" y1="65" x2="427" y2="65"/><text class="cat" x="368" y="87" textLength="110">degradation</text><line class="ul" x1="368" y1="91" x2="478" y2="91"/></g>
<g id="lbl-gst"><rect x="675" y="-2" width="158" height="72" fill="#fff" stroke="#ececec"/><text class="cat" x="690" y="27" textLength="108">Glutathione</text><line class="ul" x1="690" y1="31" x2="800" y2="31"/><text class="cat" x="690" y="53" textLength="127">S-transferases</text><line class="ul" x1="690" y1="58" x2="817" y2="58"/></g>
<g id="lbl-folate"><text class="cat" x="131" y="177" textLength="58">Folate</text><line class="ul" x1="131" y1="181" x2="192" y2="181"/><text class="cat" x="131" y="202" textLength="108">Metabolism</text><line class="ul" x1="131" y1="207" x2="239" y2="207"/></g>
<g id="lbl-c3"><text class="cat" x="9" y="325" textLength="25">C3</text><line class="ul" x1="9" y1="330" x2="38" y2="330"/><text class="cat" x="9" y="352" textLength="115">complement</text><line class="ul" x1="9" y1="357" x2="124" y2="357"/></g>
<g id="lbl-protein"><rect class="box" x="444" y="305" width="80" height="56" stroke="none"/><text class="cat" x="446" y="326" textLength="64">Protein</text><line class="ul" x1="446" y1="330" x2="511" y2="330"/><text class="cat" x="446" y="352" textLength="62">folding</text><line class="ul" x1="446" y1="357" x2="508" y2="357"/></g>
<g id="lbl-crc"><rect class="box" x="478" y="409" width="110" height="57"/><text class="cat" x="482" y="430" textLength="93">Colorectal</text><line class="ul" x1="482" y1="434" x2="575" y2="434"/><text class="cat" x="482" y="457" textLength="60">cancer</text><line class="ul" x1="482" y1="462" x2="542" y2="462"/></g>
<g id="lbl-sensing"><text class="cat" x="888" y="95" textLength="69">Sensing</text><line class="ul" x1="888" y1="99" x2="957" y2="99"/><text class="cat" x="888" y="121" textLength="109">And limiting</text><line class="ul" x1="888" y1="126" x2="997" y2="126"/><text class="cat" x="888" y="148" textLength="79">Infection</text><line class="ul" x1="888" y1="153" x2="967" y2="153"/></g>
<g id="lbl-tnf"><rect class="box" x="1112" y="292" width="281" height="71"/><text class="cat" x="1127" y="320" textLength="245">Mediate pro-inflammatory</text><line class="ul" x1="1127" y1="324" x2="1372" y2="324"/><text class="cat" x="1127" y="346" textLength="250">response to TNFa signalling</text><line class="ul" x1="1127" y1="351" x2="1377" y2="351"/></g>
<g id="lbl-cell"><text class="cat" x="866" y="516" textLength="105">Cell growth</text><line class="ul" x1="866" y1="520" x2="973" y2="520"/><text class="cat" x="866" y="543" textLength="152">and proliferation</text><line class="ul" x1="866" y1="547" x2="1018" y2="547"/></g>
<g id="lbl-sumo"><text class="cat" x="1188" y="528" textLength="128">SUMO-activation</text><line class="ul" x1="1188" y1="532" x2="1316" y2="532"/></g>
<g id="ref"><text x="1296" y="790" font-family="Lato,'Open Sans',sans-serif" font-size="19.5" fill="#222">Armstrong <tspan font-style="italic">et al.</tspan> 2022; Gastroe</text></g>
</svg>
